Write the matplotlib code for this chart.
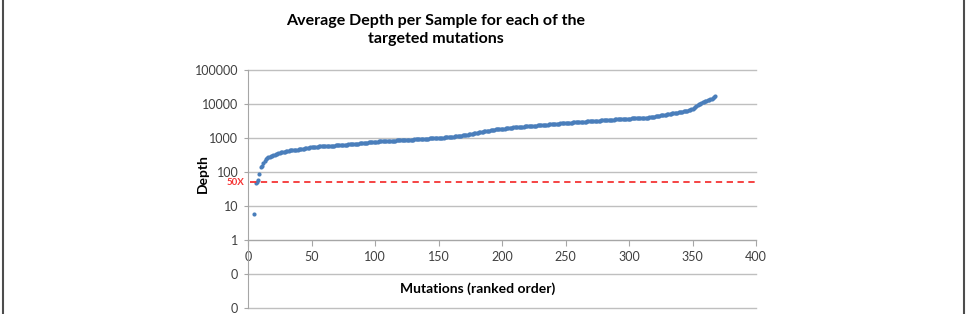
import numpy as np
import matplotlib
matplotlib.use("Agg")
import matplotlib.pyplot as plt
from matplotlib.lines import Line2D

# average depth per sample, sorted, starting at rank 5 (ranks 1-4 have no depth)
first_rank = 5
depth = [
    6, 46, 50, 60, 85, 140, 150, 185, 210, 240,
    255, 270, 282, 295, 305, 315, 325, 335, 348, 360,
    370, 378, 385, 392, 400, 408, 415, 422, 430, 435,
    440, 445, 450, 455, 458, 462, 466, 470, 478, 485,
    492, 500, 510, 520, 530, 540, 545, 550, 553, 556,
    560, 563, 566, 569, 572, 575, 578, 581, 584, 587,
    590, 594, 597, 600, 603, 607, 610, 614, 618, 622,
    628, 632, 636, 640, 645, 650, 655, 660, 665, 670,
    675, 681, 687, 693, 699, 705, 712, 720, 727, 734,
    742, 750, 758, 765, 772, 778, 782, 786, 790, 795,
    799, 803, 807, 811, 815, 819, 823, 827, 831, 835,
    839, 843, 847, 851, 855, 859, 863, 867, 872, 876,
    880, 885, 889, 894, 898, 903, 908, 912, 917, 922,
    927, 932, 937, 942, 947, 953, 958, 964, 970, 977,
    983, 989, 993, 996, 998, 1000, 1005, 1012, 1020, 1028,
    1035, 1043, 1050, 1058, 1066, 1075, 1085, 1096, 1108, 1120,
    1133, 1146, 1160, 1175, 1190, 1206, 1222, 1240, 1258, 1278,
    1300, 1320, 1340, 1362, 1384, 1406, 1430, 1455, 1480, 1505,
    1530, 1556, 1582, 1608, 1634, 1660, 1690, 1720, 1748, 1775,
    1800, 1820, 1835, 1848, 1860, 1870, 1885, 1900, 1920, 1940,
    1960, 1980, 2000, 2020, 2040, 2060, 2075, 2090, 2105, 2120,
    2135, 2150, 2165, 2180, 2195, 2210, 2225, 2240, 2255, 2275,
    2295, 2312, 2330, 2348, 2366, 2384, 2400, 2418, 2436, 2454,
    2472, 2490, 2508, 2526, 2544, 2562, 2580, 2600, 2620, 2640,
    2660, 2680, 2700, 2720, 2740, 2760, 2778, 2796, 2814, 2832,
    2850, 2868, 2886, 2904, 2922, 2940, 2958, 2976, 2994, 3012,
    3030, 3050, 3070, 3090, 3110, 3130, 3150, 3170, 3190, 3210,
    3230, 3250, 3270, 3290, 3310, 3330, 3350, 3370, 3390, 3410,
    3430, 3450, 3470, 3490, 3510, 3530, 3550, 3570, 3590, 3610,
    3630, 3650, 3670, 3690, 3705, 3720, 3735, 3750, 3765, 3780,
    3795, 3810, 3825, 3840, 3855, 3870, 3885, 3900, 3920, 3940,
    3960, 4010, 4060, 4120, 4180, 4240, 4300, 4370, 4440, 4520,
    4600, 4670, 4740, 4810, 4880, 4950, 5020, 5100, 5180, 5260,
    5340, 5420, 5500, 5580, 5660, 5740, 5840, 5940, 6040, 6150,
    6260, 6380, 6500, 6700, 6950, 7300, 7800, 8400, 9000, 9500,
    9900, 10300, 10800, 11300, 11700, 12000, 12400, 12800, 13200, 13700,
    14300, 15000, 15800, 16800,
]
threshold = 50
threshold_label = "50X"
y_ticks = [0.01, 0.1, 1, 10, 100, 1000, 10000, 100000]
y_labels = ["0", "0", "1", "10", "100", "1000", "10000", "100000"]
x_ticks = [0, 50, 100, 150, 200, 250, 300, 350, 400]

rank = np.arange(first_rank, first_rank + len(depth))

plt.rcParams['font.family'] = ['Lato', 'DejaVu Sans']

fig = plt.figure(figsize=(9.67, 3.14), dpi=100)
ax = fig.add_axes([248 / 967, 1 - 308 / 314, (756 - 248) / 967, (308 - 70) / 314])

ax.set_yscale('log')
ax.set_ylim(0.01, 100000)
ax.set_xlim(0, 400)
ax.set_yticks(y_ticks)
ax.set_yticklabels(y_labels)
ax.minorticks_off()
ax.set_xticks(x_ticks)
ax.yaxis.grid(True, color='#bfbfbf', linewidth=1.0)
for l in ax.get_ygridlines():
    l.set_clip_on(False)
ax.set_axisbelow(True)

ax.spines['top'].set_visible(False)
ax.spines['right'].set_visible(False)
ax.spines['left'].set_color('#a6a6a6')
ax.spines['bottom'].set_color('#a6a6a6')
ax.spines['bottom'].set_position(('data', 1))
ax.tick_params(axis='y', colors='#a6a6a6', labelcolor='#404040', labelsize=9, length=3, pad=4)
ax.tick_params(axis='x', colors='#a6a6a6', labelcolor='#404040', labelsize=9, length=4, pad=4)

ax.plot(rank, depth, 'o', color='#4a7ebb', markersize=3, markeredgewidth=0, clip_on=False)
ax.axhline(threshold, xmin=0.003, color='#f53535', linestyle=(0, (3.5, 2.5)), linewidth=1.3)
ax.text(-3, threshold, threshold_label, color='#f53535', fontsize=7, fontweight='bold',
        ha='right', va='center')

fig.text(203 / 967, 1 - 174 / 314, "Depth", fontsize=10, fontweight='bold',
         rotation=90, ha='center', va='center')
fig.text(478 / 967, 1 - 289 / 314, "Mutations (ranked order)", fontsize=10, fontweight='bold',
         ha='center', va='center')
fig.text(436 / 967, 1 - 30 / 314, "Average Depth per Sample for each of the\ntargeted mutations",
         fontsize=11.5, fontweight='bold', ha='center', va='center', linespacing=1.45)

# frame edges of the original figure panel
fig.add_artist(Line2D([3 / 967, 3 / 967], [0, 1], color='#4d4d4d', linewidth=1.5))
fig.add_artist(Line2D([964 / 967, 964 / 967], [0, 1], color='#4d4d4d', linewidth=1.5))

fig.savefig("out.png", dpi=100)
